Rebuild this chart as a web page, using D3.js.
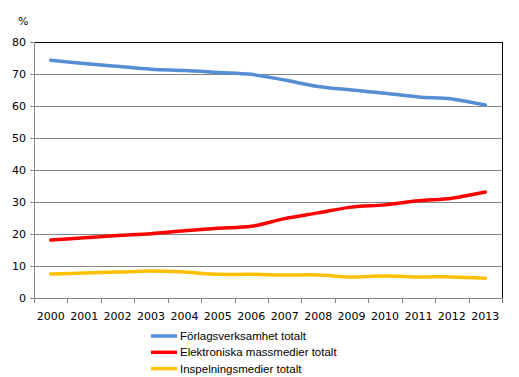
<!DOCTYPE html>
<html>
<head>
<meta charset="utf-8">
<script src="https://cdn.jsdelivr.net/npm/d3@7"></script>
<style>
  body { margin: 0; background: #fff; }
  svg text { font-family: "DejaVu Sans", Verdana, sans-serif; }
  svg text.leg { font-family: "Liberation Sans", Arial, sans-serif; }
</style>
</head>
<body>
<svg id="plotSvg"></svg>
<script>
var years = ["2000", "2001", "2002", "2003", "2004", "2005", "2006", "2007", "2008", "2009", "2010", "2011", "2012", "2013"];
var forlag = [74.3, 73.3, 72.4, 71.5, 71.1, 70.5, 69.9, 68.1, 66.1, 65.0, 64.0, 62.8, 62.2, 60.3];
var elektronisk = [18.1, 18.8, 19.5, 20.1, 21.0, 21.8, 22.4, 24.8, 26.6, 28.4, 29.1, 30.4, 31.2, 33.1];
var inspelning = [7.5, 7.8, 8.1, 8.4, 8.1, 7.4, 7.4, 7.2, 7.2, 6.6, 6.9, 6.6, 6.6, 6.2];
var yTicks = [0, 10, 20, 30, 40, 50, 60, 70, 80];
var seriesNames = ["Förlagsverksamhet totalt", "Elektroniska massmedier totalt", "Inspelningsmedier totalt"];
var colors = ["#558ed5", "#ff0000", "#ffc000"];

var svg = d3.select("#plotSvg").attr("width", 519).attr("height", 377);
var plotLeft = 34, plotRight = 502, plotTop = 42, plotBottom = 298;

var x = d3.scaleBand().domain(years).range([plotLeft, plotRight]);
var y = d3.scaleLinear().domain([0, 80]).range([plotBottom, plotTop]);

// gridlines
svg.append("g").selectAll("line")
  .data(yTicks.filter(function(d) { return d > 0 && d < 80; }))
  .enter().append("line")
  .attr("x1", plotLeft).attr("x2", plotRight)
  .attr("y1", function(d) { return Math.round(y(d)) + 0.5; })
  .attr("y2", function(d) { return Math.round(y(d)) + 0.5; })
  .attr("stroke", "#868686").attr("stroke-width", 1);

// top + right border
svg.append("line").attr("x1", plotLeft).attr("x2", plotRight + 0.5)
  .attr("y1", plotTop + 0.5).attr("y2", plotTop + 0.5).attr("stroke", "#000");
svg.append("line").attr("x1", plotRight + 0.5).attr("x2", plotRight + 0.5)
  .attr("y1", plotTop).attr("y2", plotBottom).attr("stroke", "#000");

// y axis
svg.append("line").attr("x1", plotLeft + 0.5).attr("x2", plotLeft + 0.5)
  .attr("y1", plotTop).attr("y2", plotBottom).attr("stroke", "#868686");
svg.append("g").selectAll("line")
  .data(yTicks).enter().append("line")
  .attr("x1", plotLeft - 4).attr("x2", plotLeft)
  .attr("y1", function(d) { return Math.round(y(d)) + 0.5; })
  .attr("y2", function(d) { return Math.round(y(d)) + 0.5; })
  .attr("stroke", "#868686");
svg.append("g").selectAll("text")
  .data(yTicks).enter().append("text")
  .attr("x", 26).attr("y", function(d) { return y(d); })
  .attr("dy", "0.35em").attr("text-anchor", "end")
  .attr("font-size", 11).attr("fill", "#000")
  .text(function(d) { return d; });
svg.append("text").attr("x", 18).attr("y", 25)
  .attr("font-size", 11).text("%");

// x axis
svg.append("line").attr("x1", plotLeft).attr("x2", plotRight)
  .attr("y1", plotBottom + 0.5).attr("y2", plotBottom + 0.5).attr("stroke", "#868686");
var tickPos = years.map(function(d) { return x(d); }).concat([plotRight]);
svg.append("g").selectAll("line")
  .data(tickPos).enter().append("line")
  .attr("x1", function(d) { return Math.round(d) + 0.5; })
  .attr("x2", function(d) { return Math.round(d) + 0.5; })
  .attr("y1", plotBottom).attr("y2", plotBottom + 5)
  .attr("stroke", "#868686");
svg.append("g").selectAll("text")
  .data(years).enter().append("text")
  .attr("x", function(d) { return x(d) + x.bandwidth() / 2; })
  .attr("y", 320).attr("text-anchor", "middle")
  .attr("font-size", 11).text(function(d) { return d; });

// lines
var line = d3.line()
  .x(function(d, i) { return x(years[i]) + x.bandwidth() / 2; })
  .y(function(d) { return y(d); })
  .curve(d3.curveCatmullRom);

[forlag, elektronisk, inspelning].forEach(function(s, i) {
  svg.append("path").datum(s)
    .attr("d", line)
    .attr("fill", "none")
    .attr("stroke", colors[i])
    .attr("stroke-width", 3.5)
    .attr("stroke-linecap", "round");
});

// legend
var legend = svg.append("g").selectAll("g")
  .data(seriesNames).enter().append("g")
  .attr("transform", function(d, i) { return "translate(0," + (336 + i * 16.3) + ")"; });
legend.append("line")
  .attr("x1", 151).attr("x2", 177).attr("y1", 0).attr("y2", 0)
  .attr("stroke", function(d, i) { return colors[i]; })
  .attr("stroke-width", 3.5);
legend.append("text").attr("class", "leg")
  .attr("x", 180).attr("y", 0).attr("dy", "0.35em")
  .attr("font-size", 11.5).text(function(d) { return d; });
</script>
</body>
</html>
